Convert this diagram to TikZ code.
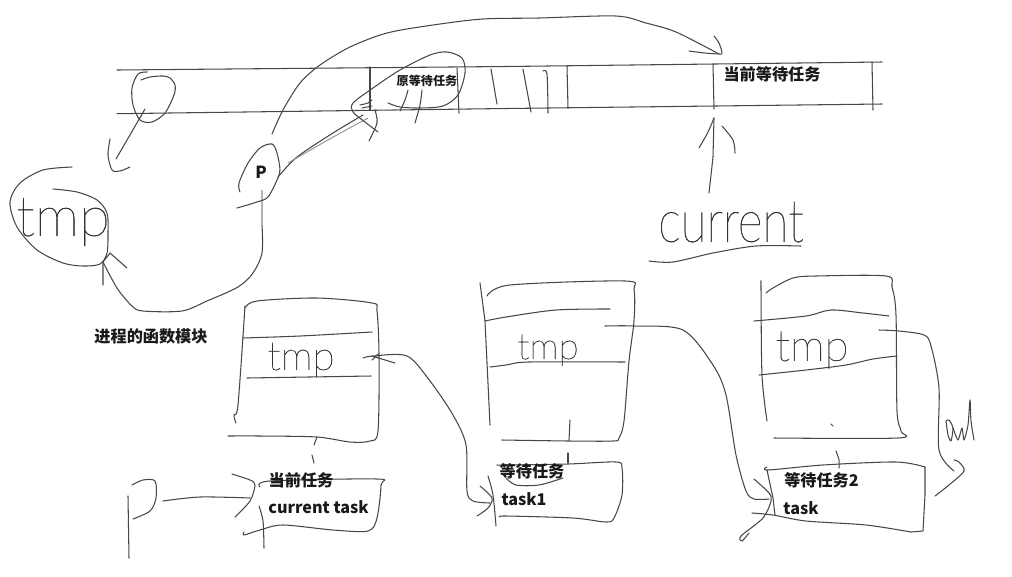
\documentclass[tikz,border=0pt]{standalone}
\usepackage{fontspec}
\newfontfamily\cjk{Noto Sans CJK SC}
\newfontfamily\hand[UprightFont=* Thin, FakeBold=.7]{Lato}
\tikzset{
	pen/.style={draw=black!72, line width=.6pt, line cap=round, line join=round},
	curve/.style={pen, smooth, tension=.5},
	printed/.style={font=\cjk\bfseries\fontsize{9.2}{11}\selectfont, text=black!90, inner sep=0pt},
	small/.style={printed, font=\cjk\bfseries\fontsize{6.9}{8}\selectfont},
	handtmp/.style={font=\hand\fontsize{23}{23}\selectfont, text=black!80, inner sep=0pt},
}
\begin{document}
\begin{tikzpicture}[x=.02cm, y=-.02cm]
	\useasboundingbox (0,0) rectangle (1012,576);
	% hang doi
	\draw[pen] (117,70)--(506,66.5)--(882,62);
	\draw[pen] (117,113.7)--(506,108.5)--(882,104);
	\draw[pen] (370,67)--(370,110);
	\draw[pen] (567,66)--(568,108);
	\draw[pen] (713,64)--(714,109);
	\draw[pen] (872,62)--(873,110);
	\draw[pen] (457,68)--(459,113);
	\draw[pen] (491,69)--(497,104);
	\draw[pen] (523,69)--(531,112);
	\draw[curve] plot coordinates {(543,71) (547,74) (548,113)};
	\node[small] (oldwait) at (427,81) {原等待任务};
	\node[printed] (curwait) at (772,74) {当前等待任务};
	% vong tron ben trai
	\draw[curve] plot coordinates {(147,72) (138,74) (132,88) (133,105) (140,120) (152,122) (165,113) (174,95) (175,85) (170,78) (163,76) (150,77) (141,80)};
	\draw[pen] (145,109)--(116,159);
	\draw[curve] plot coordinates {(110,139) (108,155) (112,170) (120,171) (130,167)};
	% tmp trai
	\node[handtmp, font=\hand\fontsize{32}{32}\selectfont] (tmpfunc) at (63,222) {tmp};
	\draw[curve] plot coordinates {(72,167) (43,170) (20,183) (10,202) (17,227) (37,250) (63,263) (83,266) (100,264) (107,253) (108,233) (107,213) (97,200) (77,192) (53,189)};
	\draw[curve] plot coordinates {(262,225) (262,253) (253,273) (238,287) (207,301) (182,311) (143,311) (132,306) (117,288) (103,262)};
	\draw[draw=black!30, line width=.6pt] (262,190)--(262,225);
	\draw[pen] (127,268)--(110,253)--(103,262)--(103,285);
	\node[printed] (funcmod) at (151,336) {进程的函数模块};
	% P
	\node[printed, font=\cjk\bfseries\fontsize{9.5}{11}\selectfont] (ptr) at (261,172) {P};
	\draw[curve] plot coordinates {(240,192) (239,183) (248,163) (260,148) (272,144) (277,153) (280,170) (277,180) (268,197) (257,202) (237,208)};
	\draw[curve] plot coordinates {(278,177) (297,157) (333,133) (363,115)};
	\draw[draw=black!45, line width=.5pt] plot[smooth] coordinates {(288,163) (300,156) (335,136) (368,118)};
	\draw[curve] plot coordinates {(378,132) (365,122) (353,112) (353,103) (373,88) (400,70) (430,55) (447,52) (462,58) (465,73) (458,95) (443,106) (420,108) (400,107) (388,103)};
	\draw[curve] plot coordinates {(408,90) (405,100) (400,111)};
	\draw[curve] plot coordinates {(422,90) (420,105) (415,123)};
	\draw[curve] plot coordinates {(360,105) (368,103) (372,100)};
	\draw[curve] plot coordinates {(375,110) (377,123) (369,141)};
	\draw[pen] (362,108)--(372,106);
	% mui ten dai
	\draw[curve] plot coordinates {(272,134) (283,110) (300,83) (320,65) (350,47) (387,33) (433,25) (483,19) (539,18) (616,16) (646,23) (676,32) (719,54)};
	\draw[curve] plot coordinates {(689,51) (705,53) (719,54) (722,53) (719,43) (714,36)};
	% current
	\draw[pen] (714,118)--(713,157)--(709,193);
	\draw[curve] plot coordinates {(699,148) (708,132) (714,118)};
	\draw[curve] plot coordinates {(722,126) (733,140) (735,153)};
	\node[font=\hand\fontsize{34}{34}\selectfont, text=black!80, inner sep=0pt, xscale=.8] (curtext) at (731,222) {current};
	\draw[curve] plot coordinates {(649,261) (673,262) (713,253) (756,246) (801,246)};
	% khoi 1
	\draw[curve] plot coordinates {(236,423) (234,415) (238,405) (245,306)};
	\draw[curve] plot coordinates {(245,308) (257,301) (317,298) (372,303) (377,311) (379,355) (378,431) (370,441) (350,442) (317,437) (260,436) (228,436)};
	\draw[curve] plot coordinates {(243,338) (300,336) (372,332)};
	\draw[curve] plot coordinates {(247,378) (371,376)};
	\node[handtmp] (tmpa) at (301,360) {tmp};
	\draw[pen] (317,437)--(314,445);
	\draw[pen] (312,455)--(314,463);
	% khoi 2
	\draw[pen] (480,283)--(485,321)--(490,425);
	\draw[curve] plot coordinates {(487,296) (510,285) (625,281) (634,290) (634,321) (629,361) (624,421) (619,438) (613,441) (569,441) (502,440)};
	\draw[curve] plot coordinates {(485,321) (506,317) (556,310) (610,309)};
	\draw[curve] plot coordinates {(490,367) (506,365) (529,362) (625,362)};
	\node[handtmp, font=\hand\fontsize{21}{21}\selectfont] (tmpb) at (548,350) {tmp};
	\draw[pen] (570,420)--(569,440);
	\draw[pen] (568,453)--(568,463);
	% khoi 3
	\draw[curve] plot coordinates {(761,283) (761,288) (762,375) (767,421)};
	\draw[curve] plot coordinates {(766,293) (773,288) (793,278) (816,276) (886,276) (892,287) (896,315) (897,411) (901,431) (898,438) (774,438)};
	\draw[curve] plot coordinates {(754,321) (806,316) (831,310) (863,313) (889,316)};
	\draw[curve] plot coordinates {(759,375) (806,370) (846,365) (873,359) (897,356)};
	\node[handtmp, font=\hand\fontsize{25}{25}\selectfont] (tmpc) at (812,350) {tmp};
	\draw[pen] (831,424)--(833,426);
	\draw[curve] plot coordinates {(836,451) (839,460) (839,468)};
	% task 1
	\draw[pen] (128,496)--(129,558);
	\draw[curve] plot coordinates {(132,485) (143,480) (155,481) (156,498) (150,511) (133,519)};
	\draw[curve] plot coordinates {(163,501) (200,497) (250,498)};
	\draw[curve] plot coordinates {(232,474) (250,480) (255,485) (250,501) (235,517)};
	\draw[curve] plot coordinates {(260,487) (270,481) (377,479) (381,485) (377,518) (368,531) (333,530) (283,525) (260,530) (244,535) (244,532)};
	\draw[curve] plot coordinates {(259,506) (263,521) (264,548)};
	\node[printed] (curtask) at (301,480) {当前任务};
	\node[printed] (curname) at (318.5,507) {current task};
	% mui ten tmp -> task1
	\draw[curve] plot coordinates {(363,358) (373,356) (407,356) (430,381) (453,415) (466,445) (467,491) (473,501) (490,503)};
	\draw[pen] (378,354)--(372,360);
	\draw[pen] (372,356)--(395,363);
	\draw[curve] plot coordinates {(480,486) (492,498) (488,508) (477,516)};
	\draw[curve] plot coordinates {(488,476) (493,495) (496,526)};
	% task 2
	\draw[curve] plot coordinates {(497,465) (506,465) (568,464) (616,462) (622,468) (622,495) (614,518) (606,522) (573,518) (506,516) (500,517)};
	\node[printed] (waittask) at (532,471) {等待任务};
	\draw[curve] plot coordinates {(506,478) (516,485) (539,485) (563,478)};
	\node[printed] (waitname) at (524,499) {task1};
	% mui ten task1 -> task
	\draw[curve] plot coordinates {(605,326) (634,326) (683,330) (713,365) (726,395) (736,455) (746,491) (754,499) (769,499)};
	\draw[curve] plot coordinates {(754,479) (769,493) (771,501) (763,518) (741,536) (742,541) (749,533)};
	\draw[curve] plot coordinates {(767,467) (768,470) (823,465) (896,462) (925,467)};
	\draw[pen] (925,467)--(925,495)--(923,531)--(911,532);
	\draw[curve] plot coordinates {(911,532) (866,525) (806,521) (773,515) (752,513)};
	\draw[pen] (767,470)--(773,498)--(775,515);
	\node[printed] (waittwo) at (821.5,480) {等待任务2};
	\node[printed] (lastname) at (801,508) {task};
	% mui ten cuoi
	\draw[curve] plot coordinates {(879,330) (899,331) (924,335) (931,346) (939,388) (939,450) (954,471)};
	\draw[curve] plot coordinates {(954,460) (959,462) (964,471) (949,485) (935,496)};
	\draw[curve, tension=.4] plot coordinates {(946,421) (948,435) (951,441) (953,428) (949,420) (946,421)};
	\draw[curve, tension=.4] plot coordinates {(953,428) (958,440) (962,428) (964,440) (968,425) (970,400) (971,421) (974,440)};
\end{tikzpicture}
\end{document}
